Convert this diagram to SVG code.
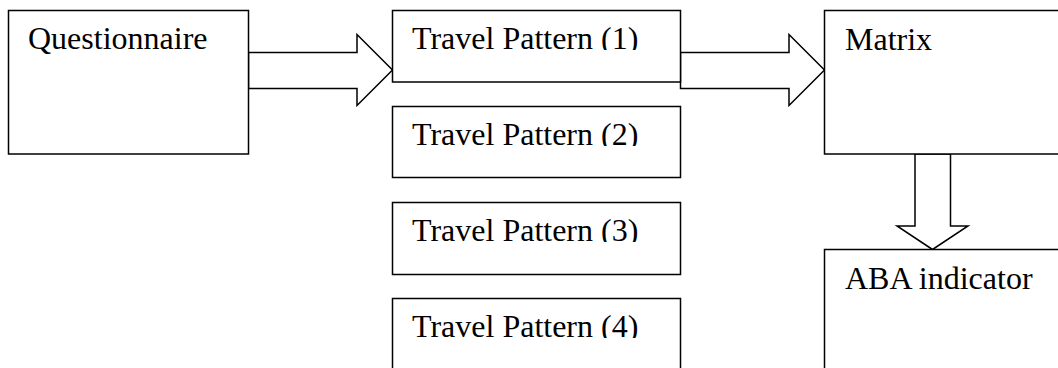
<svg xmlns="http://www.w3.org/2000/svg" width="1058" height="368" viewBox="0 0 1058 368">
  <style>
    .box { fill: #ffffff; stroke: #000000; stroke-width: 1.5; }
    .arrow { fill: #ffffff; stroke: #000000; stroke-width: 1.5; stroke-linejoin: miter; }
    .label { font-family: "Liberation Serif", "Times New Roman", serif; font-size: 32px; fill: #000000; }
  </style>
  <defs>
    <!-- the pattern labels are cut just under their baseline -->
    <clipPath id="clip-tp1"><rect x="393" y="11" width="287" height="39"/></clipPath>
    <clipPath id="clip-tp2"><rect x="393" y="107" width="287" height="39"/></clipPath>
    <clipPath id="clip-tp3"><rect x="393" y="203" width="287" height="39"/></clipPath>
    <clipPath id="clip-tp4"><rect x="393" y="299" width="287" height="39"/></clipPath>
  </defs>
  <rect x="0" y="0" width="1058" height="368" fill="#ffffff"/>

  <g id="connectors">
    <polygon class="arrow" points="248.5,52.5 357,52.5 357,34.5 392.5,70 357,105.5 357,88.5 248.5,88.5"/>
    <polygon class="arrow" points="680.5,52.5 789,52.5 789,34.5 824.5,70 789,105.5 789,88.5 680.5,88.5"/>
    <polygon class="arrow" points="915,154 950.5,154 950.5,226 968,226 932.5,249.5 897,226 915,226"/>
  </g>

  <g id="questionnaire">
    <rect class="box" x="8.5" y="10.5" width="240" height="143.5"/>
    <text class="label" x="28" y="49">Questionnaire</text>
  </g>

  <g id="travel-pattern-1">
    <rect class="box" x="392.5" y="10.5" width="288" height="71.5"/>
    <text class="label" x="412" y="48.5" clip-path="url(#clip-tp1)">Travel Pattern (1)</text>
  </g>

  <g id="travel-pattern-2">
    <rect class="box" x="392.5" y="106.5" width="288" height="71"/>
    <text class="label" x="412" y="144.5" clip-path="url(#clip-tp2)">Travel Pattern (2)</text>
  </g>

  <g id="travel-pattern-3">
    <rect class="box" x="392.5" y="202.5" width="288" height="72"/>
    <text class="label" x="412" y="240.5" clip-path="url(#clip-tp3)">Travel Pattern (3)</text>
  </g>

  <g id="travel-pattern-4">
    <rect class="box" x="392.5" y="298.5" width="288" height="80"/>
    <text class="label" x="412" y="336.5" clip-path="url(#clip-tp4)">Travel Pattern (4)</text>
  </g>

  <g id="matrix">
    <rect class="box" x="824.5" y="10.5" width="250" height="143.5"/>
    <text class="label" x="845" y="49.5">Matrix</text>
  </g>

  <g id="aba-indicator">
    <rect class="box" x="824.5" y="249.5" width="250" height="130"/>
    <text class="label" x="845" y="289">ABA indicator</text>
  </g>
</svg>
